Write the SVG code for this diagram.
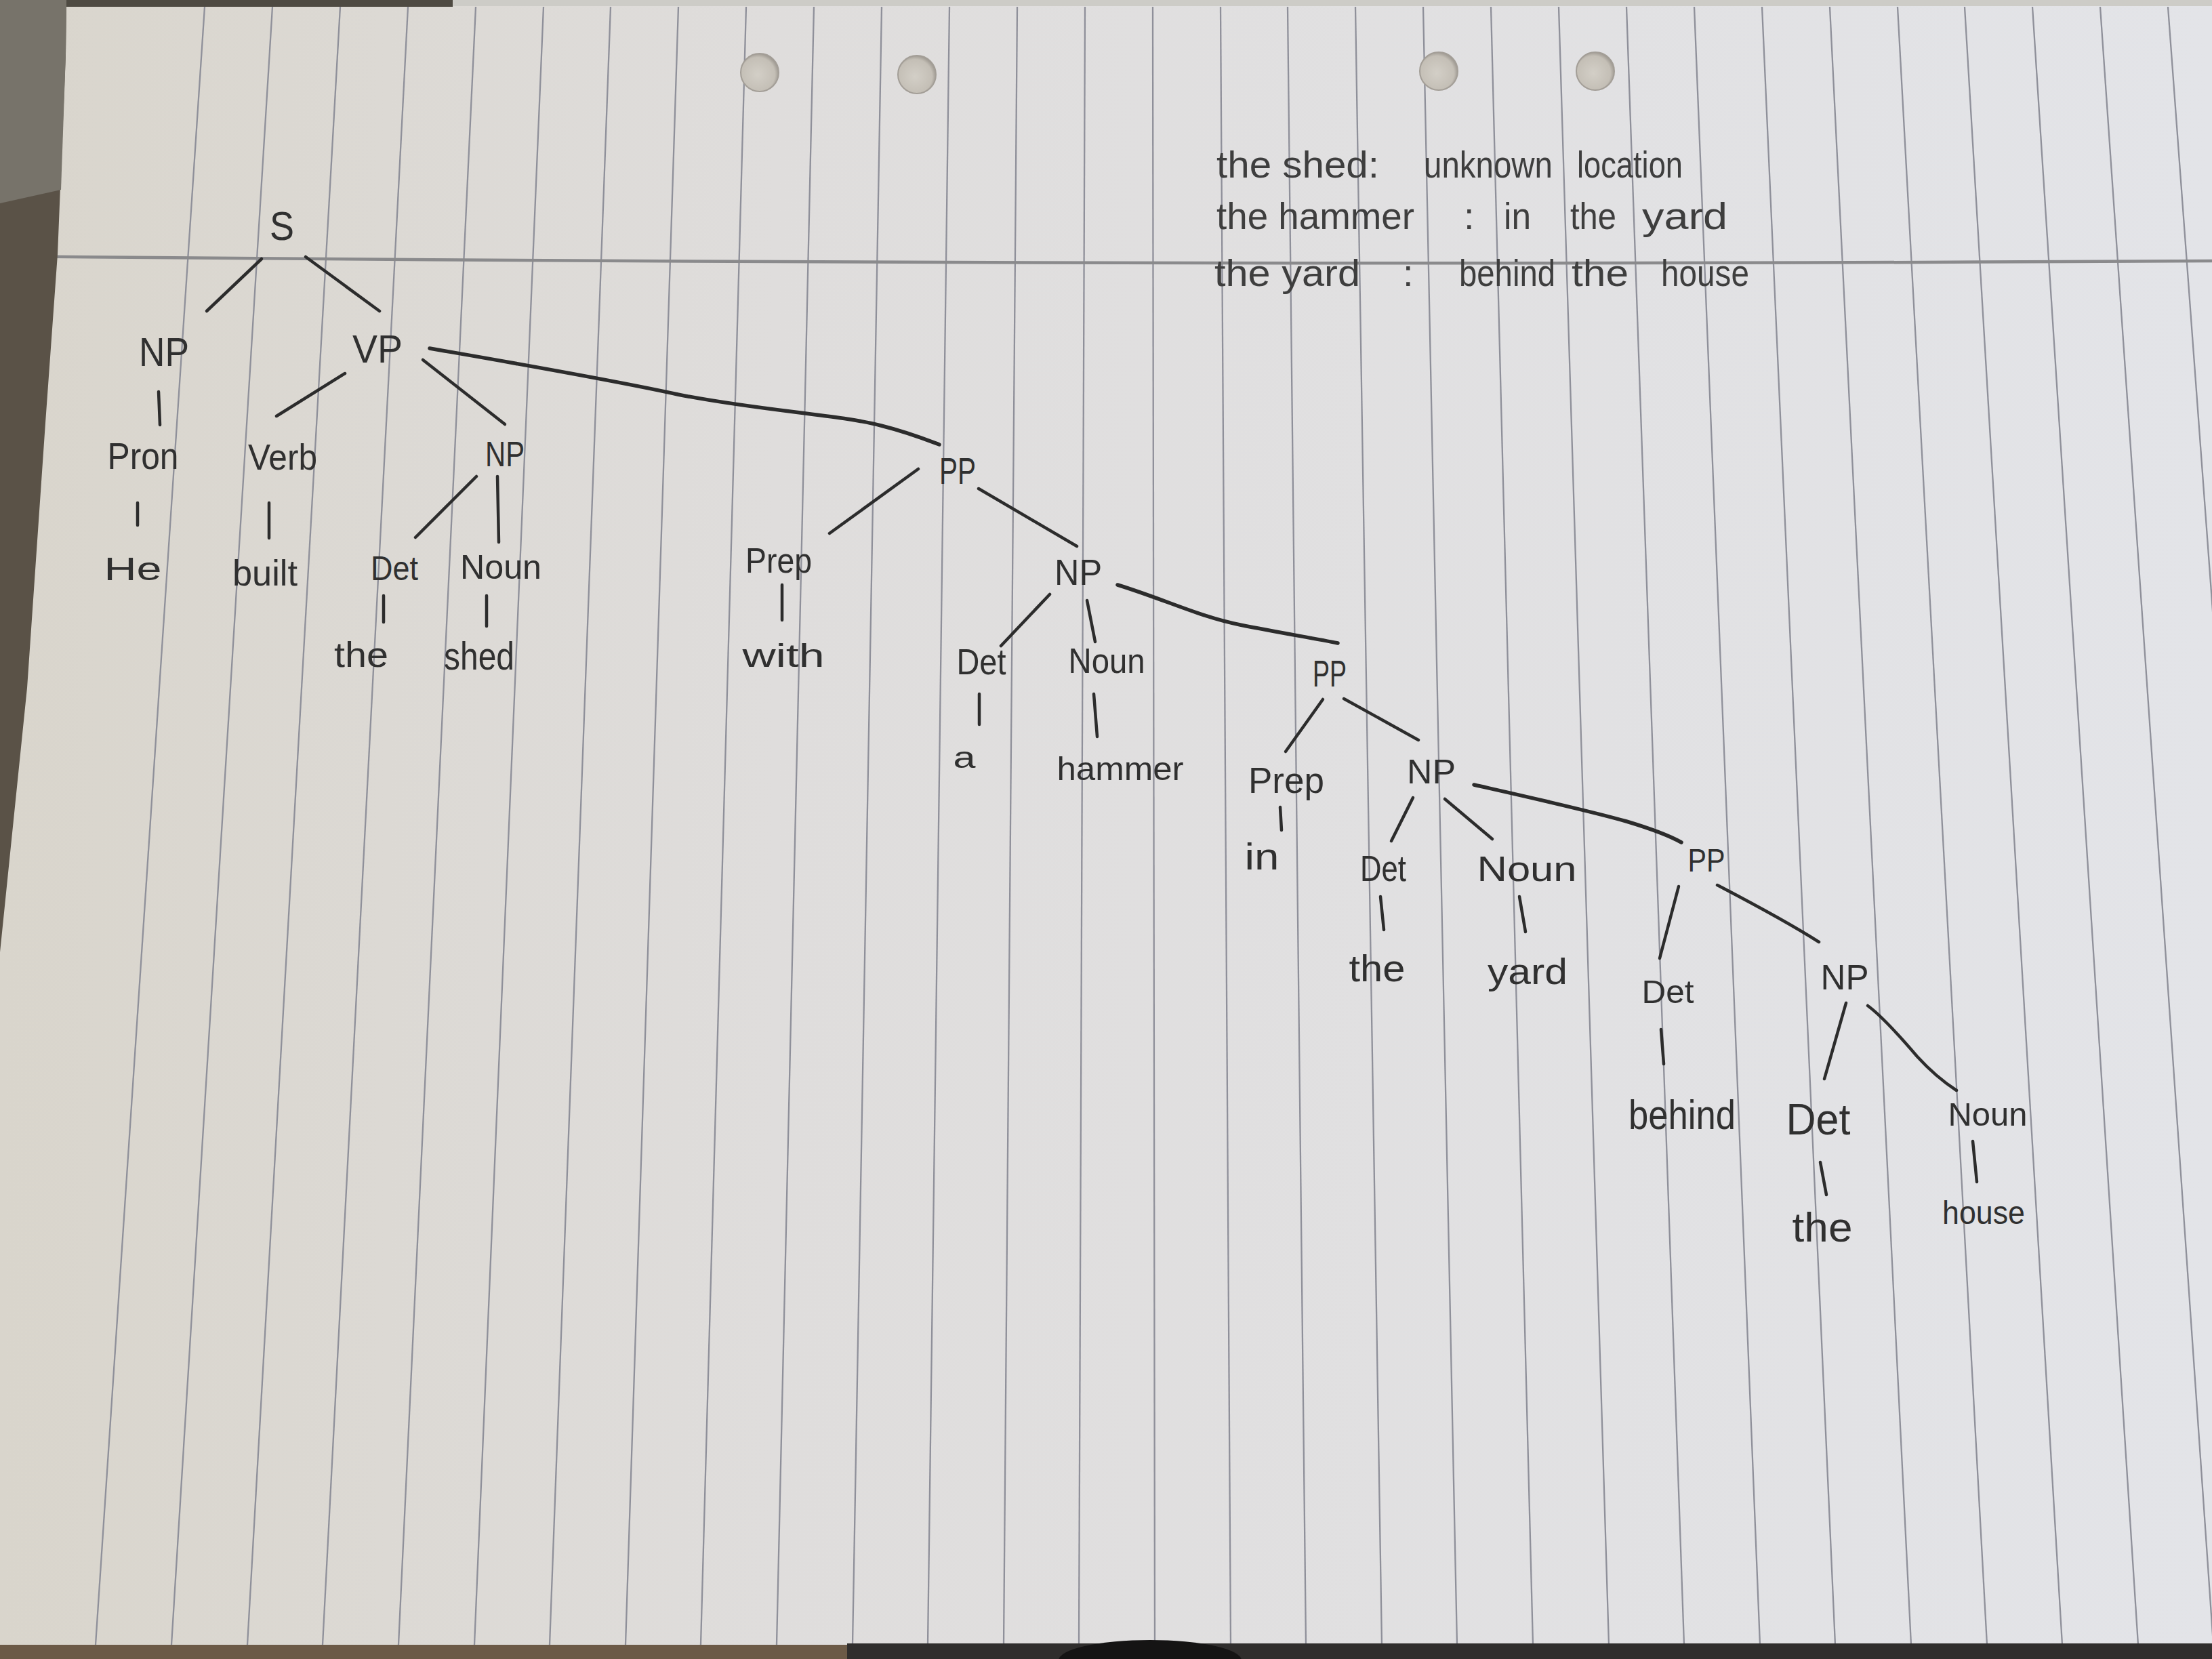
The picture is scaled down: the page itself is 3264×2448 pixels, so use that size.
<svg xmlns="http://www.w3.org/2000/svg" width="3264" height="2448" viewBox="0 0 3264 2448">
<defs>
<linearGradient id="paperGrad" x1="0" y1="0" x2="1" y2="0">
<stop offset="0" stop-color="#d9d5cc"/>
<stop offset="0.35" stop-color="#dfdddc"/>
<stop offset="1" stop-color="#e3e4e8"/>
</linearGradient>
<radialGradient id="holeGrad" cx="0.45" cy="0.55" r="0.6">
<stop offset="0" stop-color="#d3cfc7"/>
<stop offset="0.75" stop-color="#c4bfb6"/>
<stop offset="1" stop-color="#8f8a83"/>
</radialGradient>
<style>
.rule{stroke:#8f909a;stroke-width:2.3;fill:none}
.margin{stroke:#8a8a8c;stroke-width:4.5;fill:none}
.edge{stroke:#2c2c2c;stroke-width:4.5;fill:none;stroke-linecap:round;stroke-linejoin:round}
.thick{stroke-width:5.5}
.lbl{font-family:"Liberation Sans",Arial,sans-serif;fill:#303030;text-anchor:middle}
.note{font-family:"Liberation Sans",Arial,sans-serif;fill:#3e3e3e;font-size:56px}
.hole{fill:url(#holeGrad);stroke:#a39e97;stroke-width:2}
</style>
</defs>

<g id="paper">
<rect x="0" y="0" width="3264" height="2448" fill="url(#paperGrad)"/>
<g id="rules">
<line class="rule" x1="302" y1="10" x2="141" y2="2427"/>
<line class="rule" x1="402" y1="10" x2="253" y2="2427"/>
<line class="rule" x1="502" y1="10" x2="365" y2="2427"/>
<line class="rule" x1="602" y1="10" x2="476" y2="2427"/>
<line class="rule" x1="702" y1="10" x2="588" y2="2427"/>
<line class="rule" x1="802" y1="10" x2="700" y2="2427"/>
<line class="rule" x1="901" y1="10" x2="811" y2="2427"/>
<line class="rule" x1="1001" y1="10" x2="923" y2="2427"/>
<line class="rule" x1="1101" y1="10" x2="1034" y2="2427"/>
<line class="rule" x1="1201" y1="10" x2="1146" y2="2427"/>
<line class="rule" x1="1301" y1="10" x2="1258" y2="2427"/>
<line class="rule" x1="1401" y1="10" x2="1369" y2="2427"/>
<line class="rule" x1="1501" y1="10" x2="1481" y2="2427"/>
<line class="rule" x1="1601" y1="10" x2="1592" y2="2427"/>
<line class="rule" x1="1701" y1="10" x2="1704" y2="2427"/>
<line class="rule" x1="1801" y1="10" x2="1816" y2="2427"/>
<line class="rule" x1="1900" y1="10" x2="1927" y2="2427"/>
<line class="rule" x1="2000" y1="10" x2="2039" y2="2427"/>
<line class="rule" x1="2100" y1="10" x2="2150" y2="2427"/>
<line class="rule" x1="2200" y1="10" x2="2262" y2="2427"/>
<line class="rule" x1="2300" y1="10" x2="2374" y2="2427"/>
<line class="rule" x1="2400" y1="10" x2="2485" y2="2427"/>
<line class="rule" x1="2500" y1="10" x2="2597" y2="2427"/>
<line class="rule" x1="2600" y1="10" x2="2708" y2="2427"/>
<line class="rule" x1="2700" y1="10" x2="2820" y2="2427"/>
<line class="rule" x1="2800" y1="10" x2="2932" y2="2427"/>
<line class="rule" x1="2899" y1="10" x2="3043" y2="2427"/>
<line class="rule" x1="2999" y1="10" x2="3155" y2="2427"/>
<line class="rule" x1="3099" y1="10" x2="3266" y2="2427"/>
<line class="rule" x1="3199" y1="10" x2="3378" y2="2427"/>
</g>
<path class="margin" d="M0,378 Q1700,394 3264,385"/>
<circle class="hole" cx="1121" cy="107" r="28"/>
<circle class="hole" cx="1353" cy="110" r="28"/>
<circle class="hole" cx="2123" cy="105" r="28"/>
<circle class="hole" cx="2354" cy="105" r="28"/>
<polygon points="0,0 98,0 97,80 85,375 67,624 40,1015 0,1405" fill="#5a5247"/>
<polygon points="0,0 98,0 97,80 90,280 0,300" fill="#77736a"/>
<rect x="98" y="0" width="570" height="10" fill="#4e4a42"/>
<rect x="668" y="0" width="2596" height="9" fill="#cdccc7"/>
<rect x="0" y="2427" width="1250" height="21" fill="#6c5a47"/>
<rect x="1250" y="2425" width="2014" height="23" fill="#302e2d"/>
<ellipse cx="1697" cy="2450" rx="135" ry="30" fill="#151414"/>
</g>

<g id="notes">
<text class="note" x="1795" y="262" textLength="240" lengthAdjust="spacingAndGlyphs">the shed:</text>
<text class="note" x="2101" y="262" textLength="190" lengthAdjust="spacingAndGlyphs">unknown</text>
<text class="note" x="2327" y="262" textLength="156" lengthAdjust="spacingAndGlyphs">location</text>
<text class="note" x="1795" y="338" textLength="292" lengthAdjust="spacingAndGlyphs">the hammer</text>
<text class="note" x="2160" y="338">:</text>
<text class="note" x="2219" y="338" textLength="40" lengthAdjust="spacingAndGlyphs">in</text>
<text class="note" x="2317" y="338" textLength="68" lengthAdjust="spacingAndGlyphs">the</text>
<text class="note" x="2423" y="338" textLength="126" lengthAdjust="spacingAndGlyphs">yard</text>
<text class="note" x="1792" y="422" textLength="215" lengthAdjust="spacingAndGlyphs">the yard</text>
<text class="note" x="2070" y="422">:</text>
<text class="note" x="2153" y="422" textLength="142" lengthAdjust="spacingAndGlyphs">behind</text>
<text class="note" x="2319" y="422" textLength="84" lengthAdjust="spacingAndGlyphs">the</text>
<text class="note" x="2451" y="422" textLength="130" lengthAdjust="spacingAndGlyphs">house</text>
</g>

<g id="connectors">
<path class="edge" d="M386,382 L305,459"/>
<path class="edge" d="M451,379 L560,459"/>
<path class="edge" d="M234,578 L236,627"/>
<path class="edge" d="M203,742 L203,775"/>
<path class="edge" d="M509,551 L408,614"/>
<path class="edge" d="M624,531 L745,626"/>
<path class="edge thick" d="M634,514 C760,536 900,560 1000,582 C1120,606 1240,612 1300,628 C1340,638 1365,648 1386,656"/>
<path class="edge" d="M397,742 L397,794"/>
<path class="edge" d="M703,703 L613,793"/>
<path class="edge" d="M734,703 L736,800"/>
<path class="edge" d="M566,879 L566,918"/>
<path class="edge" d="M718,879 L718,924"/>
<path class="edge" d="M1355,692 L1224,787"/>
<path class="edge" d="M1444,721 L1589,806"/>
<path class="edge" d="M1154,863 L1154,915"/>
<path class="edge" d="M1549,877 L1477,953"/>
<path class="edge" d="M1604,886 L1616,947"/>
<path class="edge thick" d="M1649,863 C1720,885 1770,910 1830,922 C1890,934 1940,942 1974,949"/>
<path class="edge" d="M1445,1024 L1445,1069"/>
<path class="edge" d="M1614,1024 L1619,1087"/>
<path class="edge" d="M1952,1032 L1897,1109"/>
<path class="edge" d="M1983,1031 L2093,1092"/>
<path class="edge" d="M1889,1191 L1891,1225"/>
<path class="edge" d="M2085,1177 L2053,1241"/>
<path class="edge" d="M2132,1179 L2202,1238"/>
<path class="edge thick" d="M2175,1158 C2250,1175 2340,1195 2400,1212 C2440,1224 2465,1234 2481,1243"/>
<path class="edge" d="M2037,1323 L2042,1372"/>
<path class="edge" d="M2242,1323 L2251,1375"/>
<path class="edge" d="M2477,1308 L2449,1414"/>
<path class="edge" d="M2534,1306 C2580,1330 2640,1362 2684,1390"/>
<path class="edge" d="M2451,1519 L2455,1570"/>
<path class="edge" d="M2724,1480 L2692,1592"/>
<path class="edge" d="M2756,1484 C2775,1498 2800,1525 2829,1559 C2850,1582 2870,1598 2887,1609"/>
<path class="edge" d="M2686,1715 L2695,1763"/>
<path class="edge" d="M2911,1684 L2917,1744"/>
</g>

<g id="n-S"><text class="lbl" x="416" y="354" font-size="60" textLength="36" lengthAdjust="spacingAndGlyphs">S</text></g>
<g id="n-NP1"><text class="lbl" x="242" y="540" font-size="60" textLength="74" lengthAdjust="spacingAndGlyphs">NP</text></g>
<g id="n-VP"><text class="lbl" x="557" y="535" font-size="58" textLength="74" lengthAdjust="spacingAndGlyphs">VP</text></g>
<g id="n-Pron"><text class="lbl" x="211" y="692" font-size="56" textLength="105" lengthAdjust="spacingAndGlyphs">Pron</text></g>
<g id="n-Verb"><text class="lbl" x="417" y="693" font-size="54" textLength="102" lengthAdjust="spacingAndGlyphs">Verb</text></g>
<g id="n-NP2"><text class="lbl" x="745" y="688" font-size="52" textLength="58" lengthAdjust="spacingAndGlyphs">NP</text></g>
<g id="n-He"><text class="lbl" x="196" y="856" font-size="48" textLength="85" lengthAdjust="spacingAndGlyphs">He</text></g>
<g id="n-built"><text class="lbl" x="391" y="864" font-size="54" textLength="96" lengthAdjust="spacingAndGlyphs">built</text></g>
<g id="n-Det1"><text class="lbl" x="582" y="856" font-size="50" textLength="70" lengthAdjust="spacingAndGlyphs">Det</text></g>
<g id="n-Noun1"><text class="lbl" x="739" y="854" font-size="50" textLength="120" lengthAdjust="spacingAndGlyphs">Noun</text></g>
<g id="n-the1"><text class="lbl" x="533" y="984" font-size="52" textLength="80" lengthAdjust="spacingAndGlyphs">the</text></g>
<g id="n-shed"><text class="lbl" x="707" y="988" font-size="58" textLength="104" lengthAdjust="spacingAndGlyphs">shed</text></g>
<g id="n-PP1"><text class="lbl" x="1413" y="714" font-size="56" textLength="54" lengthAdjust="spacingAndGlyphs">PP</text></g>
<g id="n-Prep1"><text class="lbl" x="1149" y="845" font-size="52" textLength="98" lengthAdjust="spacingAndGlyphs">Prep</text></g>
<g id="n-with"><text class="lbl" x="1156" y="984" font-size="48" textLength="121" lengthAdjust="spacingAndGlyphs">with</text></g>
<g id="n-NP3"><text class="lbl" x="1591" y="863" font-size="54" textLength="70" lengthAdjust="spacingAndGlyphs">NP</text></g>
<g id="n-Det2"><text class="lbl" x="1448" y="995" font-size="54" textLength="73" lengthAdjust="spacingAndGlyphs">Det</text></g>
<g id="n-Noun2"><text class="lbl" x="1633" y="993" font-size="52" textLength="113" lengthAdjust="spacingAndGlyphs">Noun</text></g>
<g id="n-a"><text class="lbl" x="1423" y="1133" font-size="44" textLength="33" lengthAdjust="spacingAndGlyphs">a</text></g>
<g id="n-hammer"><text class="lbl" x="1653" y="1151" font-size="48" textLength="187" lengthAdjust="spacingAndGlyphs">hammer</text></g>
<g id="n-PP2"><text class="lbl" x="1962" y="1013" font-size="56" textLength="50" lengthAdjust="spacingAndGlyphs">PP</text></g>
<g id="n-Prep2"><text class="lbl" x="1898" y="1170" font-size="54" textLength="112" lengthAdjust="spacingAndGlyphs">Prep</text></g>
<g id="n-NP4"><text class="lbl" x="2112" y="1156" font-size="50" textLength="72" lengthAdjust="spacingAndGlyphs">NP</text></g>
<g id="n-in"><text class="lbl" x="1862" y="1283" font-size="56" textLength="51" lengthAdjust="spacingAndGlyphs">in</text></g>
<g id="n-Det3"><text class="lbl" x="2041" y="1300" font-size="54" textLength="68" lengthAdjust="spacingAndGlyphs">Det</text></g>
<g id="n-Noun3"><text class="lbl" x="2253" y="1300" font-size="52" textLength="147" lengthAdjust="spacingAndGlyphs">Noun</text></g>
<g id="n-the3"><text class="lbl" x="2032" y="1448" font-size="56" textLength="83" lengthAdjust="spacingAndGlyphs">the</text></g>
<g id="n-yard"><text class="lbl" x="2254" y="1452" font-size="54" textLength="118" lengthAdjust="spacingAndGlyphs">yard</text></g>
<g id="n-PP3"><text class="lbl" x="2518" y="1286" font-size="48" textLength="55" lengthAdjust="spacingAndGlyphs">PP</text></g>
<g id="n-Det4"><text class="lbl" x="2461" y="1480" font-size="48" textLength="77" lengthAdjust="spacingAndGlyphs">Det</text></g>
<g id="n-NP5"><text class="lbl" x="2722" y="1460" font-size="52" textLength="71" lengthAdjust="spacingAndGlyphs">NP</text></g>
<g id="n-behind"><text class="lbl" x="2482" y="1666" font-size="62" textLength="158" lengthAdjust="spacingAndGlyphs">behind</text></g>
<g id="n-Det5"><text class="lbl" x="2683" y="1674" font-size="64" textLength="95" lengthAdjust="spacingAndGlyphs">Det</text></g>
<g id="n-Noun5"><text class="lbl" x="2933" y="1661" font-size="48" textLength="117" lengthAdjust="spacingAndGlyphs">Noun</text></g>
<g id="n-the5"><text class="lbl" x="2689" y="1832" font-size="62" textLength="89" lengthAdjust="spacingAndGlyphs">the</text></g>
<g id="n-house"><text class="lbl" x="2927" y="1806" font-size="48" textLength="122" lengthAdjust="spacingAndGlyphs">house</text></g>
</svg>
